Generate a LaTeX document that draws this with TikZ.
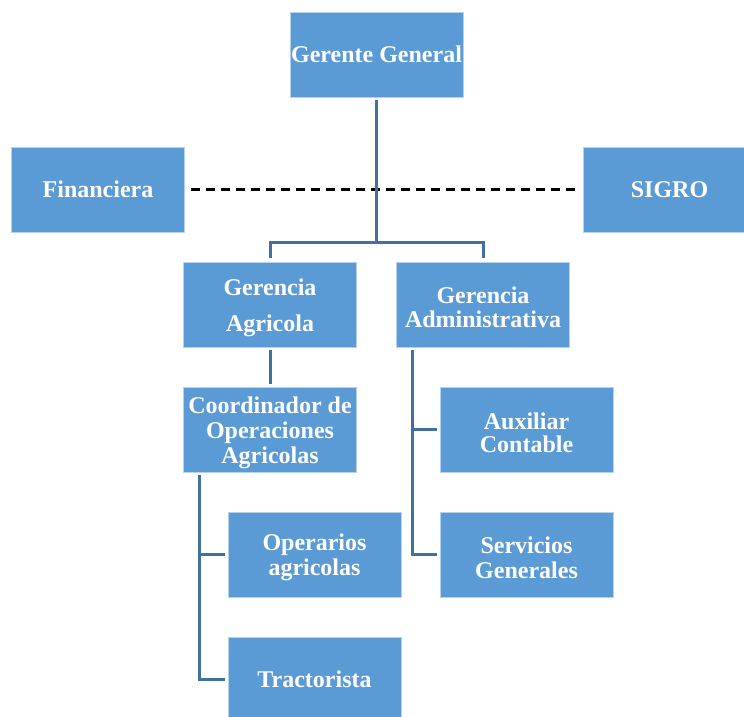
\documentclass[tikz,border=0pt]{standalone}
\usepackage{fontspec}
\setmainfont{Liberation Serif}
\definecolor{boxblue}{HTML}{5B9BD5}
\definecolor{linkblue}{HTML}{41719C}
\begin{document}
\begin{tikzpicture}[x=1pt,y=-1pt,
  orgbox/.style={fill=boxblue, draw=boxblue!45!white, line width=0.8pt,
    minimum width=173pt, minimum height=85pt, inner sep=0pt, align=center,
    text=white, font=\bfseries\fontsize{24}{25}\selectfont},
  lowtext/.style={execute at begin node={\vbox\bgroup\vskip6pt\hbox\bgroup},
    execute at end node={\egroup\egroup}},
  link/.style={draw=linkblue, line width=3pt},
  dashlink/.style={draw=black, line width=2.5pt, dash pattern=on 9pt off 6pt},
]
\useasboundingbox (0,0) rectangle (744,717);
\clip (0,0) rectangle (744,717);

\node[orgbox] (gg) at (376.5,54.5) {Gerente General};
\node[orgbox] (fin) at (98,189.5) {Financiera};
\node[orgbox] (sigro) at (669.5,189.5) {SIGRO};
\node[orgbox, lowtext, font=\bfseries\fontsize{24}{36}\selectfont] (ga) at (270,304.5) {Gerencia\\Agricola};
\node[orgbox, lowtext, font=\bfseries\fontsize{24}{24}\selectfont] (gad) at (483,304.5) {Gerencia\\Administrativa};
\node[orgbox, lowtext] (coord) at (270,429.5) {Coordinador de\\Operaciones\\Agricolas};
\node[orgbox, lowtext, font=\bfseries\fontsize{24}{23}\selectfont] (aux) at (526.5,429.5) {Auxiliar\\Contable};
\node[orgbox, lowtext] (serv) at (526.5,554.5) {Servicios\\Generales};
\node[orgbox, lowtext] (oper) at (314.5,554.5) {Operarios\\agricolas};
\node[orgbox] (tract) at (314.5,679.5) {Tractorista};

\coordinate (bus) at (376.5,242);
\coordinate (gadstem) at (412,350);
\coordinate (coordstem) at (199,475);

\draw[dashlink] ([xshift=6pt]fin.east) -- ([xshift=-5pt]sigro.west);
\draw[link, shorten <=3pt] (gg.south) -- (bus);
\draw[link, shorten <=4pt, shorten >=4pt] (ga.north) |- (bus) -| (gad.north);
\draw[link, shorten <=3pt, shorten >=3pt] (ga.south) -- (coord.north);
\draw[link, shorten >=3pt] (gadstem) |- (aux.west);
\draw[link, shorten >=3pt] (gadstem) |- (serv.west);
\draw[link, shorten >=3pt] (coordstem) |- (oper.west);
\draw[link, shorten >=3pt] (coordstem) |- (tract.west);
\end{tikzpicture}
\end{document}
